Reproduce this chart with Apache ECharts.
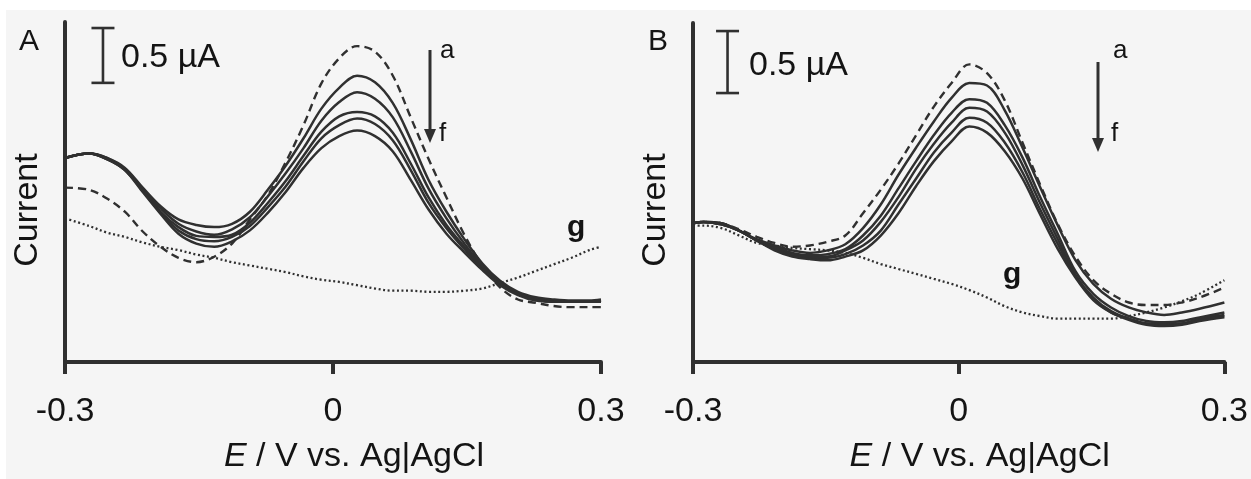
<!DOCTYPE html>
<html>
<head>
<meta charset="utf-8">
<title>DPV curves</title>
<script src="https://cdn.jsdelivr.net/npm/echarts@6/dist/echarts.min.js"></script>
<style>
  html, body { margin: 0; padding: 0; background: #ffffff; }
  #chart { width: 1251px; height: 479px; }
</style>
</head>
<body>
<div id="chart"></div>
<script>
// Sampled potentials (V vs. Ag|AgCl) for each panel
const potentialsA = [-0.300, -0.273, -0.253, -0.233, -0.213, -0.193, -0.173, -0.153, -0.133, -0.113, -0.093,
                     -0.073, -0.053, -0.033, -0.013, 0.007, 0.027, 0.047, 0.067, 0.087, 0.107,
                     0.127, 0.147, 0.167, 0.187, 0.207, 0.227, 0.247, 0.267, 0.287, 0.300];
const potentialsB = [-0.300, -0.288, -0.268, -0.248, -0.228, -0.208, -0.188, -0.168, -0.148, -0.128, -0.108,
                     -0.088, -0.068, -0.048, -0.028, -0.008, 0.012, 0.032, 0.052, 0.072, 0.092,
                     0.112, 0.132, 0.152, 0.172, 0.192, 0.212, 0.232, 0.252, 0.272, 0.300];
const xTickLabels = ['-0.3', '0', '0.3'];

// Panel A currents (µA, arbitrary baseline)
const panelA_a = [1.59, 1.57, 1.49, 1.37, 1.19, 1.05, 0.95, 0.91, 0.96, 1.08, 1.30, 1.52, 1.82, 2.16, 2.54, 2.77,
                  2.88, 2.83, 2.61, 2.23, 1.85, 1.50, 1.16, 0.88, 0.68, 0.57, 0.54, 0.51, 0.50, 0.50, 0.50];
const panelA_b = [1.86, 1.90, 1.86, 1.77, 1.59, 1.42, 1.30, 1.25, 1.23, 1.26, 1.37, 1.57, 1.79, 2.04, 2.31, 2.50,
                  2.61, 2.55, 2.36, 2.03, 1.66, 1.37, 1.12, 0.90, 0.74, 0.64, 0.59, 0.57, 0.56, 0.56, 0.57];
const panelA_c = [1.86, 1.90, 1.86, 1.76, 1.58, 1.40, 1.26, 1.19, 1.16, 1.21, 1.32, 1.51, 1.72, 1.95, 2.20, 2.37,
                  2.46, 2.40, 2.23, 1.92, 1.58, 1.31, 1.08, 0.88, 0.73, 0.63, 0.58, 0.56, 0.55, 0.55, 0.56];
const panelA_d = [1.86, 1.90, 1.85, 1.76, 1.57, 1.37, 1.23, 1.15, 1.14, 1.16, 1.27, 1.45, 1.65, 1.88, 2.10, 2.24,
                  2.28, 2.24, 2.09, 1.81, 1.50, 1.25, 1.05, 0.86, 0.72, 0.62, 0.57, 0.55, 0.55, 0.55, 0.56];
const panelA_e = [1.86, 1.90, 1.85, 1.75, 1.56, 1.36, 1.20, 1.12, 1.10, 1.14, 1.24, 1.41, 1.60, 1.83, 2.04, 2.16,
                  2.22, 2.17, 2.02, 1.75, 1.45, 1.22, 1.03, 0.85, 0.71, 0.62, 0.57, 0.55, 0.55, 0.55, 0.55];
const panelA_f = [1.86, 1.90, 1.85, 1.75, 1.55, 1.35, 1.17, 1.08, 1.05, 1.10, 1.20, 1.36, 1.55, 1.77, 1.95, 2.06,
                  2.11, 2.06, 1.92, 1.66, 1.39, 1.17, 1.00, 0.84, 0.70, 0.61, 0.56, 0.55, 0.55, 0.55, 0.55];
const panelA_g = [1.31, 1.24, 1.18, 1.14, 1.09, 1.05, 1.02, 0.98, 0.95, 0.91, 0.88, 0.85, 0.82, 0.78, 0.75, 0.73,
                  0.70, 0.67, 0.65, 0.65, 0.64, 0.64, 0.65, 0.67, 0.72, 0.77, 0.83, 0.89, 0.95, 1.02, 1.05];

// Panel B currents (µA, arbitrary baseline)
const panelB_a = [1.12, 1.13, 1.12, 1.07, 1.01, 0.96, 0.93, 0.94, 0.97, 1.02, 1.20, 1.39, 1.60, 1.83, 2.06, 2.25,
                  2.40, 2.33, 2.11, 1.77, 1.43, 1.11, 0.85, 0.66, 0.55, 0.48, 0.46, 0.46, 0.48, 0.52, 0.60];
const panelB_b = [1.12, 1.13, 1.12, 1.06, 0.99, 0.94, 0.90, 0.88, 0.90, 0.95, 1.08, 1.27, 1.51, 1.73, 1.94, 2.13,
                  2.25, 2.23, 2.03, 1.73, 1.41, 1.10, 0.82, 0.63, 0.51, 0.44, 0.40, 0.38, 0.40, 0.43, 0.48];
const panelB_c = [1.12, 1.13, 1.12, 1.06, 0.98, 0.93, 0.88, 0.86, 0.87, 0.91, 1.02, 1.18, 1.40, 1.62, 1.83, 2.01,
                  2.12, 2.09, 1.91, 1.65, 1.33, 1.03, 0.73, 0.55, 0.44, 0.37, 0.33, 0.32, 0.33, 0.36, 0.40];
const panelB_d = [1.12, 1.13, 1.11, 1.06, 0.98, 0.92, 0.87, 0.85, 0.85, 0.90, 0.98, 1.13, 1.33, 1.56, 1.76, 1.93,
                  2.05, 2.02, 1.85, 1.59, 1.28, 0.99, 0.70, 0.52, 0.41, 0.35, 0.31, 0.31, 0.31, 0.35, 0.38];
const panelB_e = [1.12, 1.13, 1.11, 1.06, 0.98, 0.91, 0.86, 0.84, 0.84, 0.87, 0.94, 1.06, 1.27, 1.48, 1.69, 1.85,
                  1.97, 1.93, 1.77, 1.53, 1.23, 0.95, 0.69, 0.51, 0.40, 0.35, 0.31, 0.30, 0.31, 0.34, 0.37];
const panelB_f = [1.12, 1.13, 1.11, 1.06, 0.98, 0.90, 0.85, 0.83, 0.82, 0.85, 0.90, 1.02, 1.20, 1.42, 1.62, 1.78,
                  1.90, 1.85, 1.70, 1.48, 1.19, 0.91, 0.68, 0.50, 0.40, 0.34, 0.30, 0.29, 0.30, 0.33, 0.36];
const panelB_g = [1.10, 1.10, 1.08, 1.02, 0.96, 0.94, 0.92, 0.91, 0.90, 0.88, 0.84, 0.79, 0.75, 0.71, 0.67, 0.63,
                  0.58, 0.52, 0.45, 0.40, 0.37, 0.35, 0.35, 0.35, 0.35, 0.37, 0.40, 0.44, 0.49, 0.55, 0.66];

const scaleBarValue = 0.5; // µA

const FONT = '"Liberation Sans", Arial, Helvetica, sans-serif';
const INK = '#303030';
const TEXT = '#141414';

const panels = [
  { potentials: potentialsA,
    curves: [panelA_a, panelA_b, panelA_c, panelA_d, panelA_e, panelA_f, panelA_g], yMax: 3.1,
    bar: { x: -0.2575, top: 3.045 } },
  { potentials: potentialsB,
    curves: [panelB_a, panelB_b, panelB_c, panelB_d, panelB_e, panelB_f, panelB_g], yMax: 2.734,
    bar: { x: -0.261, top: 2.669 } }
];

function lineStyleFor(idx) {
  if (idx === 0) return { color: INK, width: 2.4, type: [8, 5] };    // a: dashed
  if (idx === 6) return { color: INK, width: 2.3, type: [2, 2.6] };  // g: dotted
  return { color: INK, width: 2.5, type: 'solid' };                  // b–f
}

const series = [];
panels.forEach((p, gi) => {
  p.curves.forEach((vals, ci) => {
    series.push({
      type: 'line',
      name: String.fromCharCode(65 + gi) + '-' + 'abcdefg'[ci],
      xAxisIndex: gi,
      yAxisIndex: gi,
      data: p.potentials.map((x, k) => [x, vals[k]]),
      showSymbol: false,
      symbol: 'none',
      smooth: 0.35,
      lineStyle: lineStyleFor(ci),
      z: ci === 0 ? 3 : 2,
      silent: true
    });
  });
});

function xAxisFor(gi) {
  return {
    gridIndex: gi,
    type: 'value',
    min: -0.3,
    max: 0.3,
    interval: 0.3,
    name: '{it|E} / V vs. Ag|AgCl',
    nameLocation: 'middle',
    nameGap: 78,
    nameTextStyle: {
      fontFamily: FONT, fontSize: 34, color: TEXT, padding: [0, 0, 0, 42],
      rich: { it: { fontFamily: FONT, fontSize: 34, fontStyle: 'italic', color: TEXT } }
    },
    axisLine: { show: true, onZero: false, lineStyle: { color: INK, width: 4 } },
    axisTick: { show: true, inside: false, length: 12, lineStyle: { color: INK, width: 4 } },
    axisLabel: {
      show: true, margin: 33, fontFamily: FONT, fontSize: 34, color: TEXT,
      formatter: v => xTickLabels[Math.round((v + 0.3) / 0.3)]
    },
    splitLine: { show: false }
  };
}

function yAxisFor(gi) {
  return {
    gridIndex: gi,
    type: 'value',
    min: 0,
    max: panels[gi].yMax,
    axisLine: { show: true, onZero: false, lineStyle: { color: INK, width: 4 } },
    axisTick: { show: false },
    axisLabel: { show: false },
    splitLine: { show: false }
  };
}

const chart = echarts.init(document.getElementById('chart'), null, { renderer: 'canvas' });

chart.setOption({
  backgroundColor: '#ffffff',
  animation: false,
  grid: [
    { left: 65, top: 22, width: 536, height: 341 },
    { left: 693, top: 23, width: 537, height: 339 }
  ],
  xAxis: [xAxisFor(0), xAxisFor(1)],
  yAxis: [yAxisFor(0), yAxisFor(1)],
  series: series
});

function txt(x, y, s, size, opts) {
  return Object.assign({
    type: 'text', x: x, y: y, silent: true, z: 10,
    style: Object.assign({
      text: s, fontFamily: FONT, fontSize: size, fill: TEXT,
      align: 'left', verticalAlign: 'middle'
    }, (opts && opts.style) || {})
  }, (opts && opts.el) || {});
}

function arrow(x, y0, y1) {
  return [
    { type: 'line', silent: true, z: 10, shape: { x1: x, y1: y0, x2: x, y2: y1 - 10 },
      style: { stroke: INK, lineWidth: 3 } },
    { type: 'polygon', silent: true, z: 10,
      shape: { points: [[x - 6, y1 - 14], [x + 6, y1 - 14], [x, y1]] },
      style: { fill: INK } }
  ];
}

// 0.5 µA scale bar placed through the panel's own y scale
function scaleBar(gi) {
  const b = panels[gi].bar;
  const top = chart.convertToPixel({ gridIndex: gi }, [b.x, b.top]);
  const bot = chart.convertToPixel({ gridIndex: gi }, [b.x, b.top - scaleBarValue]);
  const half = 11.5;
  const st = { stroke: INK, lineWidth: 2.6 };
  return [
    { type: 'line', silent: true, z: 10, shape: { x1: top[0], y1: top[1], x2: bot[0], y2: bot[1] }, style: st },
    { type: 'line', silent: true, z: 10, shape: { x1: top[0] - half, y1: top[1], x2: top[0] + half, y2: top[1] }, style: st },
    { type: 'line', silent: true, z: 10, shape: { x1: bot[0] - half, y1: bot[1], x2: bot[0] + half, y2: bot[1] }, style: st }
  ];
}

const graphics = [
  { type: 'rect', silent: true, z: -10, shape: { x: 6, y: 10, width: 1251, height: 479 },
    style: { fill: '#f5f5f5' } },
  // panel letters
  txt(19, 42, 'A', 30),
  txt(648, 42, 'B', 30),
  // y-axis titles
  txt(28, 210, 'Current', 34, { style: { align: 'center' }, el: { rotation: Math.PI / 2 } }),
  txt(656, 210, 'Current', 34, { style: { align: 'center' }, el: { rotation: Math.PI / 2 } }),
  // scale bar captions
  txt(121, 58, '0.5 µA', 34),
  txt(749, 66, '0.5 µA', 34),
  // series order markers
  txt(440, 51, 'a', 26),
  txt(439, 134, 'f', 26),
  txt(1113, 51, 'a', 26),
  txt(1111, 134, 'f', 26),
  txt(567, 228, 'g', 30, { style: { fontWeight: 'bold' } }),
  txt(1003, 275, 'g', 30, { style: { fontWeight: 'bold' } })
].concat(arrow(430, 50, 143), arrow(1098, 62, 152), scaleBar(0), scaleBar(1));

chart.setOption({ graphic: graphics });
</script>
</body>
</html>
